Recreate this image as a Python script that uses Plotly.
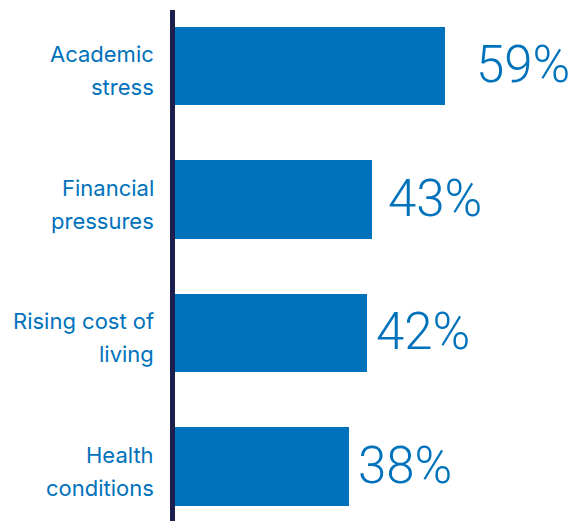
import plotly.graph_objects as go

# Reasons cited, share of respondents (%)
label_lines = [
    ["Academic", "stress"],
    ["Financial", "pressures"],
    ["Rising cost of", "living"],
    ["Health", "conditions"],
]
values = [59, 43, 42, 38]
value_text = ["59%", "43%", "42%", "38%"]

# gap (px) between each bar end and its value label
label_gap = [32, 17, 10, 10]

BLUE = "#0072BC"
NAVY = "#1C1E4E"
LABEL_FONT = "Inter"
VALUE_FONT = "Roboto"

positions = list(range(len(values)))

fig = go.Figure()
fig.add_trace(go.Bar(
    x=values,
    y=positions,
    orientation="h",
    width=0.59,
    marker=dict(color=BLUE, line=dict(width=0)),
    hoverinfo="skip",
))

annotations = []
for i, (lines, v, txt, gap) in enumerate(zip(label_lines, values, value_text, label_gap)):
    shifts = [11.5, -21.5]
    for line, ys in zip(lines, shifts):
        annotations.append(dict(
            x=0, xref="paper", y=i, yref="y",
            text=line, showarrow=False,
            xanchor="right", yanchor="middle",
            xshift=-19, yshift=ys,
            font=dict(family=LABEL_FONT, size=22, color=BLUE, weight=400),
        ))
    annotations.append(dict(
        x=v, xref="x", y=i, yref="y",
        text=txt, showarrow=False,
        xanchor="left", yanchor="middle",
        xshift=gap - 3, yshift=1,
        font=dict(family=VALUE_FONT, size=51, color=BLUE, weight=300),
    ))

px_per_unit = 4.57
plot_w = 576 - 175
axis_x = -2.5 / plot_w
fig.update_layout(
    width=576, height=521,
    margin=dict(l=175, r=0, t=0, b=0),
    paper_bgcolor="white", plot_bgcolor="white",
    showlegend=False,
    bargap=0,
    xaxis=dict(range=[0, plot_w / px_per_unit], visible=False, fixedrange=True),
    yaxis=dict(range=[3.409, -0.494], visible=False, fixedrange=True),
    annotations=annotations,
    shapes=[dict(
        type="line", xref="paper", yref="paper",
        x0=axis_x, x1=axis_x, y0=-0.02, y1=1 - 10 / 521,
        line=dict(color=NAVY, width=5),
        layer="above",
    )],
)

fig.write_html("out.html", config={"displayModeBar": False})
